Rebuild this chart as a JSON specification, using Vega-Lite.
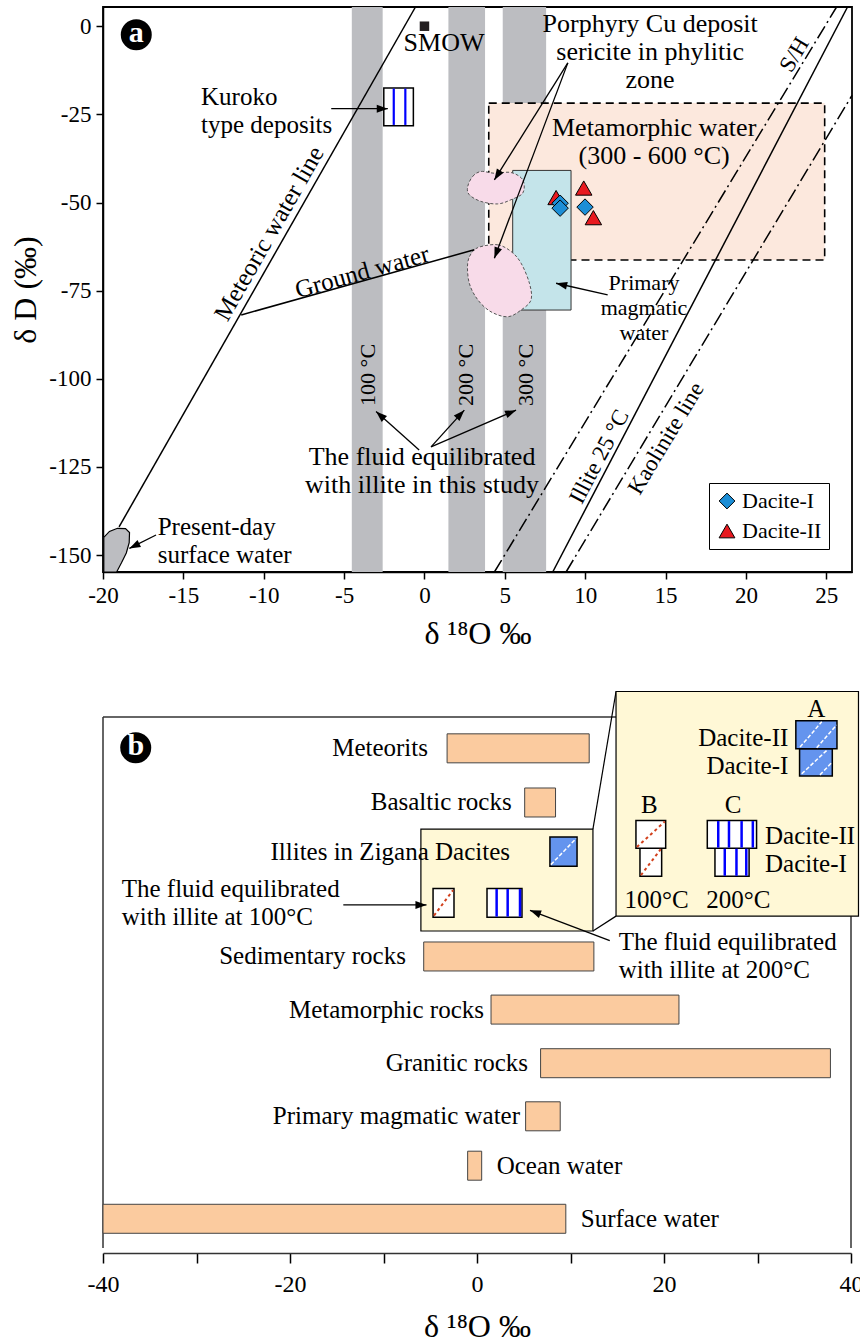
{
 "$schema": "https://vega.github.io/schema/vega-lite/v6.json",
 "padding": {"left": 8, "top": 3, "right": 0, "bottom": 0},
 "spacing": 140,
 "bounds": "flush",
 "resolve": {"scale": {"color": "independent", "shape": "independent"}, "legend": {"color": "independent", "shape": "independent"}},
 "config": {
  "font": "Liberation Serif",
  "style": {"guide-label": {"font": "Liberation Serif"}, "guide-title": {"font": "Liberation Serif"}},
  "axis": {"labelFont": "Liberation Serif", "titleFont": "Liberation Serif", "labelColor": "black", "titleColor": "black", "domainColor": "black", "tickColor": "black", "grid": false, "labelFontSize": 23, "titleFontSize": 32, "titleFontWeight": "normal", "domainWidth": 1.5, "tickWidth": 1.5, "labelFlush": false},
  "legend": {"labelFont": "Liberation Serif", "labelFontSize": 22, "labelColor": "black", "strokeColor": "black", "fillColor": "white", "padding": 7, "rowPadding": 8, "symbolSize": 250, "symbolStrokeColor": "black", "symbolStrokeWidth": 1},
  "text": {"font": "Liberation Serif", "fontSize": 25, "color": "black"},
  "view": {"stroke": "black", "strokeWidth": 1.8}
 },
 "datasets": {
  "bandsA": [{"x": -4.52, "x2": -2.6, "y": -154.8, "y2": 5.45}, {"x": 1.49, "x2": 3.77, "y": -154.8, "y2": 5.45}, {"x": 4.87, "x2": 7.57, "y": -154.8, "y2": 5.45}],
  "metaBox": [{"x": 4.0, "x2": 24.9, "y": -21.8, "y2": -66.3}],
  "magmaRect": [{"x": 5.49, "x2": 9.12, "y": -40.9, "y2": -80.5}],
  "pinkBlobs": [
   {"id": 1, "i": 1, "x": 2.69, "y": -45.5}, {"id": 1, "i": 2, "x": 3.0, "y": -42.6}, {"id": 1, "i": 3, "x": 3.52, "y": -41.2}, {"id": 1, "i": 4, "x": 4.35, "y": -41.7}, {"id": 1, "i": 5, "x": 5.39, "y": -41.5}, {"id": 1, "i": 6, "x": 6.12, "y": -43.6}, {"id": 1, "i": 7, "x": 6.12, "y": -47.3}, {"id": 1, "i": 8, "x": 5.39, "y": -49.2}, {"id": 1, "i": 9, "x": 4.56, "y": -50.4}, {"id": 1, "i": 10, "x": 3.52, "y": -49.7}, {"id": 1, "i": 11, "x": 2.79, "y": -47.8},
   {"id": 2, "i": 1, "x": 3.52, "y": -62.5}, {"id": 2, "i": 2, "x": 4.56, "y": -62.0}, {"id": 2, "i": 3, "x": 5.39, "y": -63.9}, {"id": 2, "i": 4, "x": 6.01, "y": -67.2}, {"id": 2, "i": 5, "x": 6.53, "y": -72.9}, {"id": 2, "i": 6, "x": 6.63, "y": -77.6}, {"id": 2, "i": 7, "x": 6.01, "y": -80.5}, {"id": 2, "i": 8, "x": 5.18, "y": -82.4}, {"id": 2, "i": 9, "x": 4.14, "y": -81.0}, {"id": 2, "i": 10, "x": 3.32, "y": -77.6}, {"id": 2, "i": 11, "x": 2.79, "y": -72.9}, {"id": 2, "i": 12, "x": 2.69, "y": -67.2}, {"id": 2, "i": 13, "x": 3.0, "y": -63.9}
  ],
  "surfaceBlob": [
   {"i": 1, "x": -19.95, "y": -154.8}, {"i": 2, "x": -19.95, "y": -145.0}, {"i": 3, "x": -19.6, "y": -143.3}, {"i": 4, "x": -19.1, "y": -142.4}, {"i": 5, "x": -18.6, "y": -142.5}, {"i": 6, "x": -18.35, "y": -143.6}, {"i": 7, "x": -18.37, "y": -146.5}, {"i": 8, "x": -18.55, "y": -149.4}, {"i": 9, "x": -18.85, "y": -152.2}, {"i": 10, "x": -19.15, "y": -154.8}
  ],
  "kuroko": [{"x": -2.53, "x2": -0.69, "y": -17.5, "y2": -28.2}],
  "kurokoStripes": [{"x": -1.91, "y": -17.7, "y2": -28.0}, {"x": -1.19, "y": -17.7, "y2": -28.0}],
  "solidLines": [
   {"id": "MWL", "i": 1, "x": -19.0, "y": -142.0}, {"id": "MWL", "i": 2, "x": -0.56, "y": 5.45},
   {"id": "Illite", "i": 1, "x": 7.98, "y": -154.8}, {"id": "Illite", "i": 2, "x": 26.32, "y": 5.45},
   {"id": "Ground", "i": 1, "x": -11.4, "y": -81.9}, {"id": "Ground", "i": 2, "x": 3.1, "y": -63.4}
  ],
  "dashLines": [
   {"id": "SH", "i": 1, "x": 4.35, "y": -154.8}, {"id": "SH", "i": 2, "x": 25.64, "y": 5.45},
   {"id": "Kaolinite", "i": 1, "x": 8.81, "y": -154.8}, {"id": "Kaolinite", "i": 2, "x": 26.6, "y": -19.6}
  ],
  "arrowsA": [
   {"xs": -5.8, "ys": -23.4, "x": -2.28, "y": -23.4, "angle": 90},
   {"xs": 8.92, "ys": -10.4, "x": 4.35, "y": -43.6, "angle": 212},
   {"xs": 8.92, "ys": -10.4, "x": 4.35, "y": -65.8, "angle": 200.6},
   {"xs": 11.4, "ys": -76.2, "x": 8.19, "y": -72.9, "angle": 283},
   {"xs": -0.33, "ys": -120.2, "x": -3.01, "y": -109.3, "angle": 311.7},
   {"xs": 0.41, "ys": -119.3, "x": 2.48, "y": -108.9, "angle": 43.9},
   {"xs": 0.41, "ys": -119.3, "x": 5.7, "y": -108.9, "angle": 67.1},
   {"xs": -16.7, "ys": -144.3, "x": -18.36, "y": -148.1, "angle": 243.5}
  ],
  "samples": [
   {"type": "Dacite-II", "x": 8.19, "y": -48.6},
   {"type": "Dacite-I", "x": 8.44, "y": -50.2},
   {"type": "Dacite-I", "x": 8.44, "y": -51.6},
   {"type": "Dacite-II", "x": 9.91, "y": -45.9},
   {"type": "Dacite-I", "x": 9.99, "y": -51.3},
   {"type": "Dacite-II", "x": 10.51, "y": -54.3}
  ],
  "smow": [{"x": 0, "y": 0}],
  "labelA": [{"x": -17.93, "y": -2.4, "t": "a"}],
  "textLeftA": [
   {"x": -13.9, "y": -20.0, "t": "Kuroko\ntype deposits"},
   {"x": -16.6, "y": -142.0, "t": "Present-day\nsurface water"}
  ],
  "textCenterA": [
   {"x": 14.04, "y": 0.71, "t": "Porphyry Cu deposit\nsericite in phylitic\nzone"},
   {"x": 14.29, "y": -28.8, "t": "Metamorphic water\n(300 - 600 °C)"},
   {"x": -0.15, "y": -122.2, "t": "The fluid equilibrated\nwith illite in this study"},
   {"x": 1.22, "y": -4.7, "t": "SMOW"}
  ],
  "textPrimary": [{"x": 13.66, "y": -72.8, "t": "Primary\nmagmatic\nwater"}],
  "textMWL": [{"x": -9.67, "y": -58.8, "t": "Meteoric water line"}],
  "textGround": [{"x": -3.88, "y": -69.7, "t": "Ground water"}],
  "textSHK": [{"x": 23.02, "y": -8.1, "t": "S/H"}, {"x": 15.03, "y": -116.9, "t": "Kaolinite line"}],
  "textIllite": [{"x": 10.88, "y": -122.1, "t": "Illite 25 °C"}],
  "textTemps": [{"x": -3.53, "y": -98.9, "t": "100 °C"}, {"x": 2.59, "y": -98.9, "t": "200 °C"}, {"x": 6.32, "y": -98.9, "t": "300 °C"}],
  "frameB": [
   {"x": -40, "y": 0, "x2": 40, "y2": 0},
   {"x": -40, "y": 0, "x2": -40, "y2": 10},
   {"x": 40, "y": 0, "x2": 40, "y2": 10}
  ],
  "bars": [
   {"name": "Meteorits", "x": -3.2, "x2": 12.0, "y": 0.59},
   {"name": "Basaltic rocks", "x": 5.1, "x2": 8.4, "y": 1.61},
   {"name": "Sedimentary rocks", "x": -5.7, "x2": 12.5, "y": 4.51},
   {"name": "Metamorphic rocks", "x": 1.5, "x2": 21.6, "y": 5.51},
   {"name": "Granitic rocks", "x": 6.8, "x2": 37.8, "y": 6.52},
   {"name": "Primary magmatic water", "x": 5.2, "x2": 8.9, "y": 7.52},
   {"name": "Ocean water", "x": -1.0, "x2": 0.5, "y": 8.45},
   {"name": "Surface water", "x": -40, "x2": 9.5, "y": 9.45}
  ],
  "insets": [
   {"x": 14.87, "x2": 40.8, "y": -0.48, "y2": 3.75},
   {"x": -6.0, "x2": 12.4, "y": 2.11, "y2": 4.03}
  ],
  "connectors": [
   {"x": 12.4, "y": 2.11, "x2": 14.87, "y2": -0.48},
   {"x": 12.4, "y": 4.03, "x2": 14.87, "y2": 3.75}
  ],
  "blueBoxes": [
   {"x": 7.8, "x2": 10.7, "y": 2.26, "y2": 2.81},
   {"x": 34.5, "x2": 38.0, "y": 0.6, "y2": 1.11},
   {"x": 34.1, "x2": 38.5, "y": 0.07, "y2": 0.6}
  ],
  "whiteHatch": [
   {"x": 7.9, "y": 2.78, "x2": 10.6, "y2": 2.29},
   {"x": 34.55, "y": 0.567, "x2": 36.87, "y2": 0.09},
   {"x": 36.33, "y": 0.58, "x2": 38.45, "y2": 0.15},
   {"x": 34.73, "y": 1.07, "x2": 37.4, "y2": 0.63},
   {"x": 36.68, "y": 1.09, "x2": 37.93, "y2": 0.86}
  ],
  "whiteBoxes": [
   {"x": -4.7, "x2": -2.46, "y": 3.23, "y2": 3.77},
   {"x": 1.07, "x2": 4.81, "y": 3.23, "y2": 3.77},
   {"x": 17.43, "x2": 19.75, "y": 2.47, "y2": 3.0},
   {"x": 17.0, "x2": 20.18, "y": 1.95, "y2": 2.47},
   {"x": 25.45, "x2": 29.1, "y": 2.47, "y2": 3.0},
   {"x": 24.63, "x2": 29.9, "y": 1.95, "y2": 2.47}
  ],
  "redHatch": [
   {"x": -4.6, "y": 3.74, "x2": -2.56, "y2": 3.26},
   {"x": 17.1, "y": 2.45, "x2": 20.08, "y2": 1.97},
   {"x": 17.53, "y": 2.98, "x2": 19.65, "y2": 2.49}
  ],
  "blueStripes": [
   {"x": 2.1, "y": 3.24, "y2": 3.76}, {"x": 3.28, "y": 3.24, "y2": 3.76}, {"x": 4.6, "y": 3.24, "y2": 3.76},
   {"x": 25.8, "y": 1.96, "y2": 2.46}, {"x": 26.95, "y": 1.96, "y2": 2.46}, {"x": 28.3, "y": 1.96, "y2": 2.46}, {"x": 29.5, "y": 1.96, "y2": 2.46},
   {"x": 26.5, "y": 2.48, "y2": 2.99}, {"x": 27.75, "y": 2.48, "y2": 2.99}, {"x": 28.8, "y": 2.48, "y2": 2.99}
  ],
  "arrowsB": [
   {"xs": -14.3, "ys": 3.54, "x": -5.4, "y": 3.54, "angle": 90},
   {"xs": 14.2, "ys": 4.21, "x": 5.67, "y": 3.64, "angle": 291}
  ],
  "textRightB": [
   {"x": -5.24, "y": 0.59, "t": "Meteorits"},
   {"x": 3.71, "y": 1.61, "t": "Basaltic rocks"},
   {"x": 3.53, "y": 2.55, "t": "Illites in Zigana Dacites"},
   {"x": -7.6, "y": 4.51, "t": "Sedimentary rocks"},
   {"x": 0.75, "y": 5.51, "t": "Metamorphic rocks"},
   {"x": 5.45, "y": 6.52, "t": "Granitic rocks"},
   {"x": 4.6, "y": 7.52, "t": "Primary magmatic water"},
   {"x": 33.3, "y": 0.39, "t": "Dacite-II"},
   {"x": 33.3, "y": 0.92, "t": "Dacite-I"}
  ],
  "textLeftB": [
   {"x": 2.1, "y": 8.45, "t": "Ocean water"},
   {"x": 11.1, "y": 9.45, "t": "Surface water"},
   {"x": -38.0, "y": 3.23, "t": "The fluid equilibrated\nwith illite at 100°C"},
   {"x": 15.15, "y": 4.23, "t": "The fluid equilibrated\nwith illite at 200°C"},
   {"x": 30.8, "y": 2.24, "t": "Dacite-II"},
   {"x": 30.8, "y": 2.77, "t": "Dacite-I"}
  ],
  "textCenterB": [
   {"x": 36.3, "y": -0.16, "t": "A"},
   {"x": 18.43, "y": 1.66, "t": "B"},
   {"x": 27.4, "y": 1.66, "t": "C"},
   {"x": 19.2, "y": 3.44, "t": "100°C"},
   {"x": 27.95, "y": 3.44, "t": "200°C"}
  ],
  "labelB": [{"x": -36.5, "y": 0.58, "t": "b"}]
 },
 "vconcat": [
  {
   "width": 749,
   "height": 565,
   "encoding": {
    "x": {"field": "x", "type": "quantitative", "title": "δ ¹⁸O ‰", "scale": {"domain": [-20, 26.6], "nice": false, "zero": false}, "axis": {"values": [-20, -15, -10, -5, 0, 5, 10, 15, 20, 25], "tickSize": 7, "labelPadding": 5, "titlePadding": 11, "labelFont": "Liberation Serif", "titleFont": "Liberation Serif", "labelExpr": "replace(datum.label, '−', '-')"}},
    "y": {"field": "y", "type": "quantitative", "title": "δ D (‰)", "scale": {"domain": [-154.8, 5.45], "nice": false, "zero": false}, "axis": {"values": [-150, -125, -100, -75, -50, -25, 0], "tickSize": 7, "labelPadding": 5, "titlePadding": 6, "labelFont": "Liberation Serif", "titleFont": "Liberation Serif", "labelExpr": "replace(datum.label, '−', '-')"}}
   },
   "layer": [
    {"data": {"name": "bandsA"}, "mark": {"type": "rect", "fill": "#bcbdc1"}, "encoding": {"x2": {"field": "x2"}, "y2": {"field": "y2"}}},
    {"data": {"name": "metaBox"}, "mark": {"type": "rect", "fill": "#fce8dd", "stroke": "black", "strokeWidth": 1.6, "strokeDash": [8, 5]}, "encoding": {"x2": {"field": "x2"}, "y2": {"field": "y2"}}},
    {"data": {"name": "magmaRect"}, "mark": {"type": "rect", "fill": "#c4e4ea", "stroke": "#333", "strokeWidth": 1}, "encoding": {"x2": {"field": "x2"}, "y2": {"field": "y2"}}},
    {"data": {"name": "pinkBlobs"}, "mark": {"type": "line", "fill": "#f8dbe9", "stroke": "#555", "strokeWidth": 1, "strokeDash": [3, 2], "interpolate": "cardinal-closed"}, "encoding": {"detail": {"field": "id"}, "order": {"field": "i"}}},
    {"data": {"name": "surfaceBlob"}, "mark": {"type": "line", "fill": "#bcbdc1", "stroke": "black", "strokeWidth": 1.2, "interpolate": "linear-closed"}, "encoding": {"order": {"field": "i"}}},
    {"data": {"name": "solidLines"}, "mark": {"type": "line", "stroke": "black", "strokeWidth": 1.5}, "encoding": {"detail": {"field": "id"}, "order": {"field": "i"}}},
    {"data": {"name": "dashLines"}, "mark": {"type": "line", "stroke": "black", "strokeWidth": 1.5, "strokeDash": [14, 4, 2, 4]}, "encoding": {"detail": {"field": "id"}, "order": {"field": "i"}}},
    {"data": {"name": "kuroko"}, "mark": {"type": "rect", "fill": "white", "stroke": "black", "strokeWidth": 1.5}, "encoding": {"x2": {"field": "x2"}, "y2": {"field": "y2"}}},
    {"data": {"name": "kurokoStripes"}, "mark": {"type": "rule", "color": "#0000ff", "strokeWidth": 2.2}, "encoding": {"y2": {"field": "y2"}}},
    {"data": {"name": "arrowsA"}, "mark": {"type": "rule", "color": "black", "strokeWidth": 1.3}, "encoding": {"x": {"field": "xs", "type": "quantitative", "title": "δ ¹⁸O ‰"}, "y": {"field": "ys", "type": "quantitative", "title": "δ D (‰)"}, "x2": {"field": "x"}, "y2": {"field": "y"}}},
    {"data": {"name": "arrowsA"}, "mark": {"type": "point", "shape": "M0,0L-0.5,1.4L0.5,1.4Z", "filled": true, "color": "black", "opacity": 1, "size": 250}, "encoding": {"angle": {"field": "angle", "type": "quantitative", "scale": null}}},
    {"data": {"name": "smow"}, "mark": {"type": "point", "shape": "square", "filled": true, "color": "#231f20", "opacity": 1, "size": 90}},
    {"data": {"name": "samples"}, "mark": {"type": "point", "filled": true, "stroke": "black", "strokeWidth": 1, "opacity": 1, "size": 270},
     "encoding": {
      "color": {"field": "type", "type": "nominal", "scale": {"domain": ["Dacite-I", "Dacite-II"], "range": ["#1c8ed6", "#e8191f"]}, "legend": {"title": null, "orient": "bottom-right", "offset": 23, "labelFont": "Liberation Serif"}},
      "shape": {"field": "type", "type": "nominal", "scale": {"domain": ["Dacite-I", "Dacite-II"], "range": ["diamond", "triangle-up"]}, "legend": {"title": null, "orient": "bottom-right", "offset": 23, "labelFont": "Liberation Serif"}}
     }},
    {"data": {"name": "labelA"}, "mark": {"type": "point", "shape": "circle", "filled": true, "color": "black", "opacity": 1, "size": 960}},
    {"data": {"name": "labelA"}, "mark": {"type": "text", "color": "white", "fontWeight": "bold", "fontSize": 30, "align": "center", "baseline": "middle", "dy": -2}, "encoding": {"text": {"field": "t"}}},
    {"data": {"name": "textLeftA"}, "mark": {"type": "text", "align": "left", "baseline": "middle", "lineBreak": "\n", "lineHeight": 28}, "encoding": {"text": {"field": "t"}}},
    {"data": {"name": "textCenterA"}, "mark": {"type": "text", "align": "center", "baseline": "middle", "lineBreak": "\n", "lineHeight": 28, "fontSize": 26}, "encoding": {"text": {"field": "t"}}},
    {"data": {"name": "textPrimary"}, "mark": {"type": "text", "align": "center", "baseline": "middle", "lineBreak": "\n", "lineHeight": 25, "fontSize": 22}, "encoding": {"text": {"field": "t"}}},
    {"data": {"name": "textMWL"}, "mark": {"type": "text", "align": "center", "baseline": "middle", "angle": 299.7}, "encoding": {"text": {"field": "t"}}},
    {"data": {"name": "textGround"}, "mark": {"type": "text", "align": "center", "baseline": "middle", "angle": 344.4}, "encoding": {"text": {"field": "t"}}},
    {"data": {"name": "textSHK"}, "mark": {"type": "text", "align": "center", "baseline": "middle", "angle": 301, "fontSize": 23}, "encoding": {"text": {"field": "t"}}},
    {"data": {"name": "textIllite"}, "mark": {"type": "text", "align": "center", "baseline": "middle", "angle": 297.6, "fontSize": 23}, "encoding": {"text": {"field": "t"}}},
    {"data": {"name": "textTemps"}, "mark": {"type": "text", "align": "center", "baseline": "middle", "angle": 270, "fontSize": 22}, "encoding": {"text": {"field": "t"}}}
   ]
  },
  {
   "width": 748,
   "height": 541,
   "view": {"stroke": null},
   "encoding": {
    "x": {"field": "x", "type": "quantitative", "title": "δ ¹⁸O ‰", "scale": {"domain": [-40, 40], "nice": false, "zero": false}, "axis": {"values": [-40, -30, -20, -10, 0, 10, 20, 30, 40], "tickSize": 10, "labelFontSize": 24, "labelPadding": 9, "titlePadding": 15, "domainColor": "#333", "labelFont": "Liberation Serif", "titleFont": "Liberation Serif", "labelExpr": "datum.value % 20 === 0 ? replace(datum.label, '−', '-') : ''"}},
    "y": {"field": "y", "type": "quantitative", "scale": {"domain": [0, 10], "reverse": true, "nice": false, "zero": false}, "axis": null}
   },
   "layer": [
    {"data": {"name": "frameB"}, "mark": {"type": "rule", "color": "#333", "strokeWidth": 1.5}, "encoding": {"x2": {"field": "x2"}, "y2": {"field": "y2"}}},
    {"data": {"name": "bars"}, "mark": {"type": "bar", "orient": "horizontal", "size": 29, "fill": "#fbcb9f", "stroke": "#444", "strokeWidth": 1}, "encoding": {"x2": {"field": "x2"}}},
    {"data": {"name": "connectors"}, "mark": {"type": "rule", "color": "black", "strokeWidth": 1.2}, "encoding": {"x2": {"field": "x2"}, "y2": {"field": "y2"}}},
    {"data": {"name": "insets"}, "mark": {"type": "rect", "fill": "#fff8d6", "stroke": "black", "strokeWidth": 1.2}, "encoding": {"x2": {"field": "x2"}, "y2": {"field": "y2"}}},
    {"data": {"name": "blueBoxes"}, "mark": {"type": "rect", "fill": "#6494ee", "stroke": "black", "strokeWidth": 1.5}, "encoding": {"x2": {"field": "x2"}, "y2": {"field": "y2"}}},
    {"data": {"name": "whiteHatch"}, "mark": {"type": "rule", "color": "white", "strokeWidth": 1.5, "strokeDash": [4, 2]}, "encoding": {"x2": {"field": "x2"}, "y2": {"field": "y2"}}},
    {"data": {"name": "whiteBoxes"}, "mark": {"type": "rect", "fill": "white", "stroke": "black", "strokeWidth": 1.5}, "encoding": {"x2": {"field": "x2"}, "y2": {"field": "y2"}}},
    {"data": {"name": "redHatch"}, "mark": {"type": "rule", "color": "#d2401c", "strokeWidth": 2, "strokeDash": [3, 3]}, "encoding": {"x2": {"field": "x2"}, "y2": {"field": "y2"}}},
    {"data": {"name": "blueStripes"}, "mark": {"type": "rule", "color": "#0000ff", "strokeWidth": 2.5}, "encoding": {"y2": {"field": "y2"}}},
    {"data": {"name": "arrowsB"}, "mark": {"type": "rule", "color": "black", "strokeWidth": 1.3}, "encoding": {"x": {"field": "xs", "type": "quantitative", "title": "δ ¹⁸O ‰"}, "y": {"field": "ys", "type": "quantitative"}, "x2": {"field": "x"}, "y2": {"field": "y"}}},
    {"data": {"name": "arrowsB"}, "mark": {"type": "point", "shape": "M0,0L-0.5,1.4L0.5,1.4Z", "filled": true, "color": "black", "opacity": 1, "size": 250}, "encoding": {"angle": {"field": "angle", "type": "quantitative", "scale": null}}},
    {"data": {"name": "textRightB"}, "mark": {"type": "text", "align": "right", "baseline": "middle"}, "encoding": {"text": {"field": "t"}}},
    {"data": {"name": "textLeftB"}, "mark": {"type": "text", "align": "left", "baseline": "middle", "lineBreak": "\n", "lineHeight": 28}, "encoding": {"text": {"field": "t"}}},
    {"data": {"name": "textCenterB"}, "mark": {"type": "text", "align": "center", "baseline": "middle"}, "encoding": {"text": {"field": "t"}}},
    {"data": {"name": "labelB"}, "mark": {"type": "point", "shape": "circle", "filled": true, "color": "black", "opacity": 1, "size": 960}},
    {"data": {"name": "labelB"}, "mark": {"type": "text", "color": "white", "fontWeight": "bold", "fontSize": 30, "align": "center", "baseline": "middle", "dy": -2}, "encoding": {"text": {"field": "t"}}}
   ]
  }
 ]
}
